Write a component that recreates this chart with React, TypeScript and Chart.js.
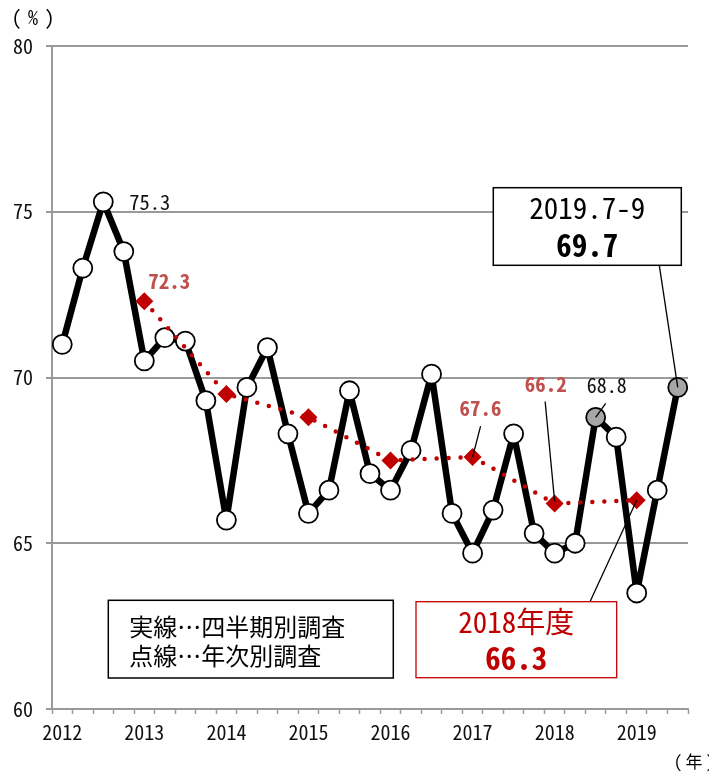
import React, { useEffect, useRef } from "react";
import { Chart, registerables } from "chart.js";

Chart.register(...registerables);

// 四半期別調査: 2012年1-3月期 〜 2019年7-9月期
const quarterLabels = [
  "2012.1-3", "2012.4-6", "2012.7-9", "2012.10-12",
  "2013.1-3", "2013.4-6", "2013.7-9", "2013.10-12",
  "2014.1-3", "2014.4-6", "2014.7-9", "2014.10-12",
  "2015.1-3", "2015.4-6", "2015.7-9", "2015.10-12",
  "2016.1-3", "2016.4-6", "2016.7-9", "2016.10-12",
  "2017.1-3", "2017.4-6", "2017.7-9", "2017.10-12",
  "2018.1-3", "2018.4-6", "2018.7-9", "2018.10-12",
  "2019.1-3", "2019.4-6", "2019.7-9",
];
const quarterlyRate = [
  71.0, 73.3, 75.3, 73.8,
  70.5, 71.2, 71.1, 69.3,
  65.7, 69.7, 70.9, 68.3,
  65.9, 66.6, 69.6, 67.1,
  66.6, 67.8, 70.1, 65.9,
  64.7, 66.0, 68.3, 65.3,
  64.7, 65.0, 68.8, 68.2,
  63.5, 66.6, 69.7,
];
const highlightedQuarters = ["2018.7-9", "2019.7-9"];

// 年次別調査 (年度): plotted at the 1-3月期 following each fiscal year
const fiscalYears = ["2012", "2013", "2014", "2015", "2016", "2017", "2018"];
const annualRate = [72.3, 69.5, 68.8, 67.5, 67.6, 66.2, 66.3];

const yearTickLabels = ["2012", "2013", "2014", "2015", "2016", "2017", "2018", "2019"];
const yAxisTicks = [60, 65, 70, 75, 80];

const annualX = fiscalYears.map((fy) => quarterLabels.indexOf(`${Number(fy) + 1}.1-3`));
const yearTickX = yearTickLabels.map((y) => quarterLabels.indexOf(`${y}.1-3`));

const GOTHIC = "'Noto Sans Mono CJK JP', 'Noto Sans CJK JP', 'DejaVu Sans', sans-serif";
const AXIS_GRAY = "#9a9a9a";
const DARK_RED = "#C00000";
const LABEL_RED = "#C0504D";

function drawText(
  ctx: CanvasRenderingContext2D,
  text: string,
  x: number,
  y: number,
  font: string,
  color: string,
  align: CanvasTextAlign = "center"
) {
  ctx.save();
  ctx.font = font;
  ctx.fillStyle = color;
  ctx.textAlign = align;
  ctx.textBaseline = "middle";
  ctx.fillText(text, x, y);
  ctx.restore();
}

function drawLine(ctx: CanvasRenderingContext2D, x1: number, y1: number, x2: number, y2: number, width = 1.3) {
  ctx.save();
  ctx.strokeStyle = "#000";
  ctx.lineWidth = width;
  ctx.beginPath();
  ctx.moveTo(x1, y1);
  ctx.lineTo(x2, y2);
  ctx.stroke();
  ctx.restore();
}

function drawBox(ctx: CanvasRenderingContext2D, x1: number, y1: number, x2: number, y2: number, color: string, width: number) {
  ctx.save();
  ctx.fillStyle = "#fff";
  ctx.fillRect(x1, y1, x2 - x1, y2 - y1);
  ctx.strokeStyle = color;
  ctx.lineWidth = width;
  ctx.strokeRect(x1, y1, x2 - x1, y2 - y1);
  ctx.restore();
}

// unit caption such as （%）, laid out glyph by glyph with wide spacing
function drawUnit(ctx: CanvasRenderingContext2D, unit: string, x: number, y: number, gap: number, size: number) {
  const parts = ["(", unit, ")"];
  let cx = x;
  parts.forEach((p, i) => {
    drawText(ctx, p, cx, y, `${size}px ${GOTHIC}`, "#000");
    cx += i === 0 ? gap : gap;
  });
}

const notesPlugin = {
  id: "notes",
  afterDatasetsDraw(chart: any) {
    const ctx: CanvasRenderingContext2D = chart.ctx;
    const xs = chart.scales.x;
    const ys = chart.scales.y;
    const q = (label: string) => {
      const i = quarterLabels.indexOf(label);
      return [xs.getPixelForValue(i), ys.getPixelForValue(quarterlyRate[i])];
    };
    const a = (fy: string) => {
      const k = fiscalYears.indexOf(fy);
      return [xs.getPixelForValue(annualX[k]), ys.getPixelForValue(annualRate[k])];
    };
    const fmt = (v: number) => v.toFixed(1);

    // unit captions
    drawUnit(ctx, "%", 16.5, 17, 16.5, 20);
    drawUnit(ctx, "年", 678, 762, 16, 17);

    // peak of the quarterly series
    {
      const i = quarterLabels.indexOf("2012.7-9");
      const [px, py] = q("2012.7-9");
      drawText(ctx, fmt(quarterlyRate[i]), px + 26, py, `20.5px ${GOTHIC}`, "#111", "left");
    }
    // first fiscal year value
    {
      const [px, py] = a("2012");
      drawText(ctx, fmt(annualRate[0]), px + 4, py - 20, `bold 21px ${GOTHIC}`, LABEL_RED, "left");
    }
    // 2016年度
    {
      const [px, py] = a("2016");
      drawText(ctx, fmt(annualRate[4]), px + 8, py - 49, `bold 21px ${GOTHIC}`, LABEL_RED);
      drawLine(ctx, px + 8, py - 31, px, py);
    }
    // 2017年度
    {
      const [px, py] = a("2017");
      drawText(ctx, fmt(annualRate[5]), px - 9, py - 119, `bold 21px ${GOTHIC}`, LABEL_RED);
      drawLine(ctx, px - 9.5, py - 102, px, py - 2);
    }
    // 2018年7-9月期
    {
      const i = quarterLabels.indexOf("2018.7-9");
      const [px, py] = q("2018.7-9");
      drawText(ctx, fmt(quarterlyRate[i]), px + 11, py - 32, `20px ${GOTHIC}`, "#111");
      drawLine(ctx, px + 10, py - 14, px, py);
    }
    // latest quarter callout
    {
      const last = quarterLabels.length - 1;
      const [px, py] = q(quarterLabels[last]);
      drawLine(ctx, 659.3, 265.3, px, py);
      drawBox(ctx, 493.3, 187.7, 681.3, 265.3, "#000", 1.5);
      drawText(ctx, "2019.7-9", 587.3, 208, `29px ${GOTHIC}`, "#000");
      drawText(ctx, fmt(quarterlyRate[last]), 587.3, 245, `bold 31px ${GOTHIC}`, "#000");
    }
    // latest fiscal year callout
    {
      const k = fiscalYears.length - 1;
      const [px, py] = a(fiscalYears[k]);
      drawLine(ctx, 590, 601.7, px, py);
      drawBox(ctx, 416, 601.7, 616.7, 677.7, DARK_RED, 1.3);
      drawText(ctx, `${fiscalYears[k]}年度`, 516.3, 622, `29px ${GOTHIC}`, DARK_RED);
      drawText(ctx, fmt(annualRate[k]), 516.3, 658.5, `bold 31px ${GOTHIC}`, DARK_RED);
    }
    // legend
    drawBox(ctx, 108.3, 600.3, 393.3, 678, "#000", 1.5);
    drawText(ctx, "実線…四半期別調査", 129.3, 627, `24px ${GOTHIC}`, "#000", "left");
    drawText(ctx, "点線…年次別調査", 129.3, 656, `24px ${GOTHIC}`, "#000", "left");
  },
};

export default function App() {
  const canvasRef = useRef<HTMLCanvasElement | null>(null);

  useEffect(() => {
    const canvas = canvasRef.current;
    if (!canvas) return;

    const quarterPoints = quarterlyRate.map((v, i) => ({ x: i, y: v }));
    const annualPoints = annualRate.map((v, k) => ({ x: annualX[k], y: v }));
    const pointFill = quarterLabels.map((l) => (highlightedQuarters.includes(l) ? "#a6a6a6" : "#ffffff"));

    const chart = new Chart(canvas, {
      type: "line",
      data: {
        datasets: [
          {
            label: "年次別調査",
            data: annualPoints,
            order: 0,
            borderColor: DARK_RED,
            borderWidth: 4.5,
            borderDash: [0, 12],
            borderCapStyle: "round",
            tension: 0,
            pointStyle: "rectRot",
            pointRadius: 9,
            pointBackgroundColor: DARK_RED,
            pointBorderColor: DARK_RED,
            pointBorderWidth: 0,
            clip: false,
          },
          {
            label: "四半期別調査",
            data: quarterPoints,
            order: 1,
            borderColor: "#000",
            borderWidth: 6.5,
            borderJoinStyle: "round",
            tension: 0,
            pointStyle: "circle",
            pointRadius: 9.5,
            pointBackgroundColor: pointFill,
            pointBorderColor: "#000",
            pointBorderWidth: 1.8,
            clip: false,
          },
        ],
      },
      options: {
        animation: false,
        responsive: false,
        maintainAspectRatio: false,
        layout: { padding: { top: 46, right: 21, left: 0, bottom: 0 } },
        plugins: {
          legend: { display: false },
          tooltip: { enabled: false },
        },
        scales: {
          x: {
            type: "linear",
            min: -0.5,
            max: quarterLabels.length - 0.5,
            afterBuildTicks: (scale: any) => {
              const ticks = [];
              for (let v = -0.5; v <= quarterLabels.length - 0.5; v += 0.5) ticks.push({ value: v });
              scale.ticks = ticks;
            },
            afterFit: (scale: any) => {
              scale.height = 64;
            },
            grid: {
              drawOnChartArea: false,
              drawTicks: true,
              tickLength: 5,
              tickWidth: 1.5,
              tickColor: (c: any) => (Number.isInteger(c.tick?.value) ? "rgba(0,0,0,0)" : AXIS_GRAY),
            },
            border: { color: AXIS_GRAY, width: 2 },
            ticks: {
              autoSkip: false,
              maxRotation: 0,
              padding: 6,
              color: "#111",
              font: { family: GOTHIC, size: 20 },
              callback: (v: any) => {
                const k = yearTickX.indexOf(Number(v));
                return k >= 0 ? yearTickLabels[k] : "";
              },
            },
          },
          y: {
            min: 60,
            max: 80,
            afterBuildTicks: (scale: any) => {
              scale.ticks = yAxisTicks.map((v) => ({ value: v }));
            },
            afterFit: (scale: any) => {
              scale.width = 52;
            },
            grid: {
              color: AXIS_GRAY,
              lineWidth: 2,
              drawTicks: true,
              tickLength: 6,
              tickColor: AXIS_GRAY,
            },
            border: { color: AXIS_GRAY, width: 2 },
            ticks: {
              padding: 13,
              color: "#111",
              font: { family: GOTHIC, size: 20 },
            },
          },
        },
      },
      plugins: [notesPlugin],
    } as any);

    return () => chart.destroy();
  }, []);

  return (
    <div style={{ position: "fixed", left: 0, top: 0, width: 709, height: 773, background: "#fff" }}>
      <canvas ref={canvasRef} width={709} height={773} style={{ width: 709, height: 773, display: "block" }} />
    </div>
  );
}
